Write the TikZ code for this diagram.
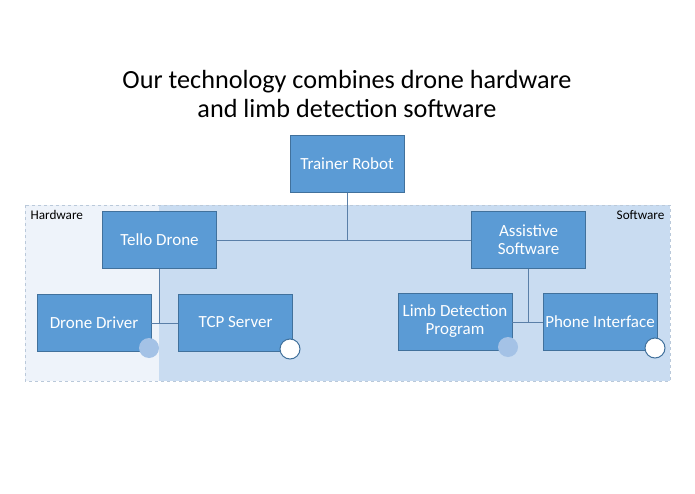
\documentclass[tikz,border=0pt]{standalone}
\usepackage{fontspec}
\setmainfont{Carlito}
\definecolor{boxc}{HTML}{5B9BD5}
\definecolor{boxd}{HTML}{41719C}
\definecolor{hw}{HTML}{EEF3FA}
\definecolor{sw}{HTML}{C9DCF1}
\definecolor{dot}{HTML}{A4C2E6}
\definecolor{ln}{HTML}{5A7FA8}
\begin{document}
\begin{tikzpicture}[x=1pt,y=-1pt,
 box/.style={draw=boxd,fill=boxc,text=white,minimum width=114pt,minimum height=57pt,align=center,font=\fontsize{17}{18}\selectfont,inner sep=0pt},
 con/.style={draw=ln,line width=0.7pt},
 ldot/.style={circle,fill=dot,minimum size=20pt,inner sep=0pt},
 wdot/.style={circle,fill=white,draw=boxd,line width=1pt,minimum size=20pt,inner sep=0pt}]
\useasboundingbox (0,0) rectangle (695,494);
\fill[white] (0,0) rectangle (695,494);
\fill[hw] (25,205) rectangle (159,381);
\fill[sw] (159,205) rectangle (670,381);
\draw[dashed,draw=sw!80!gray,line width=0.4pt] (25,205) rectangle (670,381);
\node[font=\fontsize{26.2}{29}\selectfont,align=center] (title) at (347,94) {Our technology combines drone hardware\\and limb detection software};
\node[anchor=west,font=\fontsize{13.2}{15}\selectfont] (hwl) at (27,215) {Hardware};
\node[anchor=east,font=\fontsize{13.2}{15}\selectfont] (swl) at (668,215) {Software};
\node[box] (tr) at (347,164) {Trainer Robot};
\node[box] (td) at (159.5,240) {Tello Drone};
\node[box] (as) at (528.5,240) {Assistive\\Software};
\node[box] (dd) at (94,322.5) {Drone Driver};
\node[box] (tcp) at (235.5,322.5) {TCP Server};
\node[box] (lp) at (455,321.5) {Limb Detection\\Program};
\node[box] (pi) at (600,321.5) {Phone Interface};
\coordinate (j0) at (347,240);
\coordinate (j1) at (159.5,323);
\coordinate (j2) at (528.5,322);
\draw[con] (tr.south) -- (j0);
\draw[con] (td.east) -- (as.west);
\draw[con] (td.south) -- (j1);
\draw[con] (dd.east |- j1) -- (tcp.west |- j1);
\draw[con] (as.south) -- (j2);
\draw[con] (lp.east |- j2) -- (pi.west |- j2);
\node[ldot] (c1) at (149,348) {};
\node[wdot] (c2) at (290,349) {};
\node[ldot] (c3) at (508,347) {};
\node[wdot] (c4) at (655,348) {};
\end{tikzpicture}
\end{document}
